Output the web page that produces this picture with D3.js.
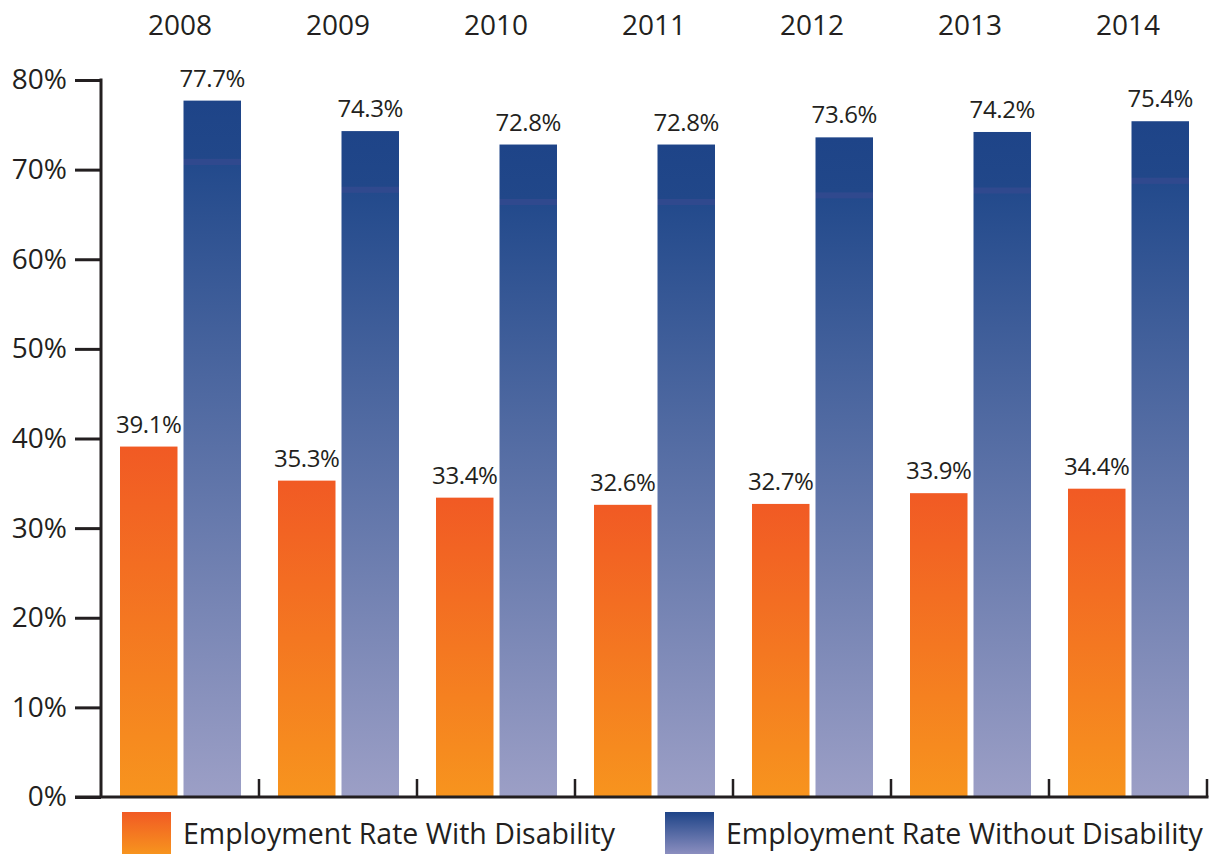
<!DOCTYPE html>
<html>
<head>
<meta charset="utf-8">
<script src="https://cdnjs.cloudflare.com/ajax/libs/d3/7.8.5/d3.min.js"></script>
<style>
  body { margin: 0; background: #fff; }
  text { font-family: "Open Sans", "Noto Sans", sans-serif; fill: #231f20; }
</style>
</head>
<body>
<div id="chart"></div>
<script>
// chart data
var years = ["2008", "2009", "2010", "2011", "2012", "2013", "2014"];
var series = ["with", "without"];
var seriesNames = ["Employment Rate With Disability", "Employment Rate Without Disability"];
var withDisability = [39.1, 35.3, 33.4, 32.6, 32.7, 33.9, 34.4];
var withoutDisability = [77.7, 74.3, 72.8, 72.8, 73.6, 74.2, 75.4];
var yTicks = [0, 10, 20, 30, 40, 50, 60, 70, 80];

var width = 1213,
    height = 854;

var svg = d3.select("#chart").append("svg")
    .attr("width", width)
    .attr("height", height);

// gradients for the bars and legend swatches
var defs = svg.append("defs");
function addGradient(id, stops) {
    var g = defs.append("linearGradient")
        .attr("id", id)
        .attr("x1", 0).attr("y1", 0)
        .attr("x2", 0).attr("y2", 1);
    stops.forEach(function(s) {
        g.append("stop").attr("offset", s[0]).attr("stop-color", s[1]);
    });
}
addGradient("grad-with", [[0, "#f15a24"], [1, "#f7941e"]]);
addGradient("grad-without", [[0, "#1e4488"], [0.083, "#214789"], [0.084, "#30498e"], [0.092, "#30498e"],
                             [0.093, "#234a8c"], [1, "#9c9fc6"]]);
addGradient("grad-with-key", [[0, "#f15a24"], [1, "#f7941e"]]);
addGradient("grad-without-key", [[0, "#1e4488"], [1, "#8b8ebf"]]);

// scales
var x = d3.scaleBand().domain(years).range([101, 1207]);
var xInner = d3.scaleBand().domain(series).range([19, 140]).paddingInner(0.0945);
var y = d3.scaleLinear().domain([0, 80]).range([797, 80]);

var rows = years.map(function(yr, i) {
    return { year: yr, values: [
        { key: "with", v: withDisability[i] },
        { key: "without", v: withoutDisability[i] }
    ]};
});

// bars
var group = svg.selectAll(".year")
    .data(rows)
    .enter().append("g")
    .attr("class", "year")
    .attr("transform", function(d) { return "translate(" + x(d.year) + ",0)"; });

group.selectAll("rect")
    .data(function(d) { return d.values; })
    .enter().append("rect")
    .attr("x", function(d) { return xInner(d.key); })
    .attr("y", function(d) { return y(d.v); })
    .attr("width", xInner.bandwidth())
    .attr("height", function(d) { return y(0) - y(d.v); })
    .attr("fill", function(d) { return "url(#grad-" + d.key + ")"; });

// value labels above bars
group.selectAll(".val")
    .data(function(d) { return d.values; })
    .enter().append("text")
    .attr("class", "val")
    .attr("x", function(d) { return xInner(d.key) + xInner.bandwidth() / 2; })
    .attr("y", function(d) { return y(d.v) - 14; })
    .attr("text-anchor", "middle")
    .style("font-size", "24px")
    .style("letter-spacing", "-0.4px")
    .text(function(d) { return d.v.toFixed(1) + "%"; });

// year labels on top
svg.selectAll(".yr")
    .data(years)
    .enter().append("text")
    .attr("class", "yr")
    .attr("x", function(d) { return x(d) + x.bandwidth() / 2; })
    .attr("y", 35)
    .attr("text-anchor", "middle")
    .style("font-size", "28px")
    .text(function(d) { return d; });

// y axis
var yAxis = d3.axisLeft(y)
    .tickValues(yTicks)
    .tickSize(26)
    .tickPadding(8)
    .tickFormat(function(d) { return d + "%"; });

var gy = svg.append("g")
    .attr("transform", "translate(101,0)")
    .call(yAxis);
gy.select(".domain").remove();
gy.selectAll(".tick line").attr("stroke", "#231f20").attr("stroke-width", 3);
gy.selectAll(".tick text")
    .style("font-size", "28px")
    .style("font-family", "'Open Sans', sans-serif")
    .attr("fill", "#231f20");
gy.append("line")
    .attr("x1", 0).attr("x2", 0)
    .attr("y1", y(80) - 1.5).attr("y2", y(0))
    .attr("stroke", "#231f20").attr("stroke-width", 3);

// x axis along the bottom with short ticks between groups
var xBounds = years.map(function(d) { return x(d); }).concat([x.range()[1]]);
svg.append("line")
    .attr("x1", 75).attr("x2", x.range()[1] + 1.5)
    .attr("y1", y(0)).attr("y2", y(0))
    .attr("stroke", "#231f20").attr("stroke-width", 3);
svg.selectAll(".xtick")
    .data(xBounds.slice(1))
    .enter().append("line")
    .attr("class", "xtick")
    .attr("x1", function(d) { return d; })
    .attr("x2", function(d) { return d; })
    .attr("y1", y(0))
    .attr("y2", y(0) - 18)
    .attr("stroke", "#231f20").attr("stroke-width", 2.5);

// legend
var legendX = [122, 665];
var legend = svg.selectAll(".key")
    .data(series)
    .enter().append("g")
    .attr("class", "key")
    .attr("transform", function(d, i) { return "translate(" + legendX[i] + ",812)"; });
legend.append("rect")
    .attr("width", 49)
    .attr("height", 42)
    .attr("fill", function(d) { return "url(#grad-" + d + "-key)"; });
legend.append("text")
    .attr("x", 61)
    .attr("y", 32)
    .style("font-size", "28.5px")
    .text(function(d, i) { return seriesNames[i]; });
</script>
</body>
</html>
